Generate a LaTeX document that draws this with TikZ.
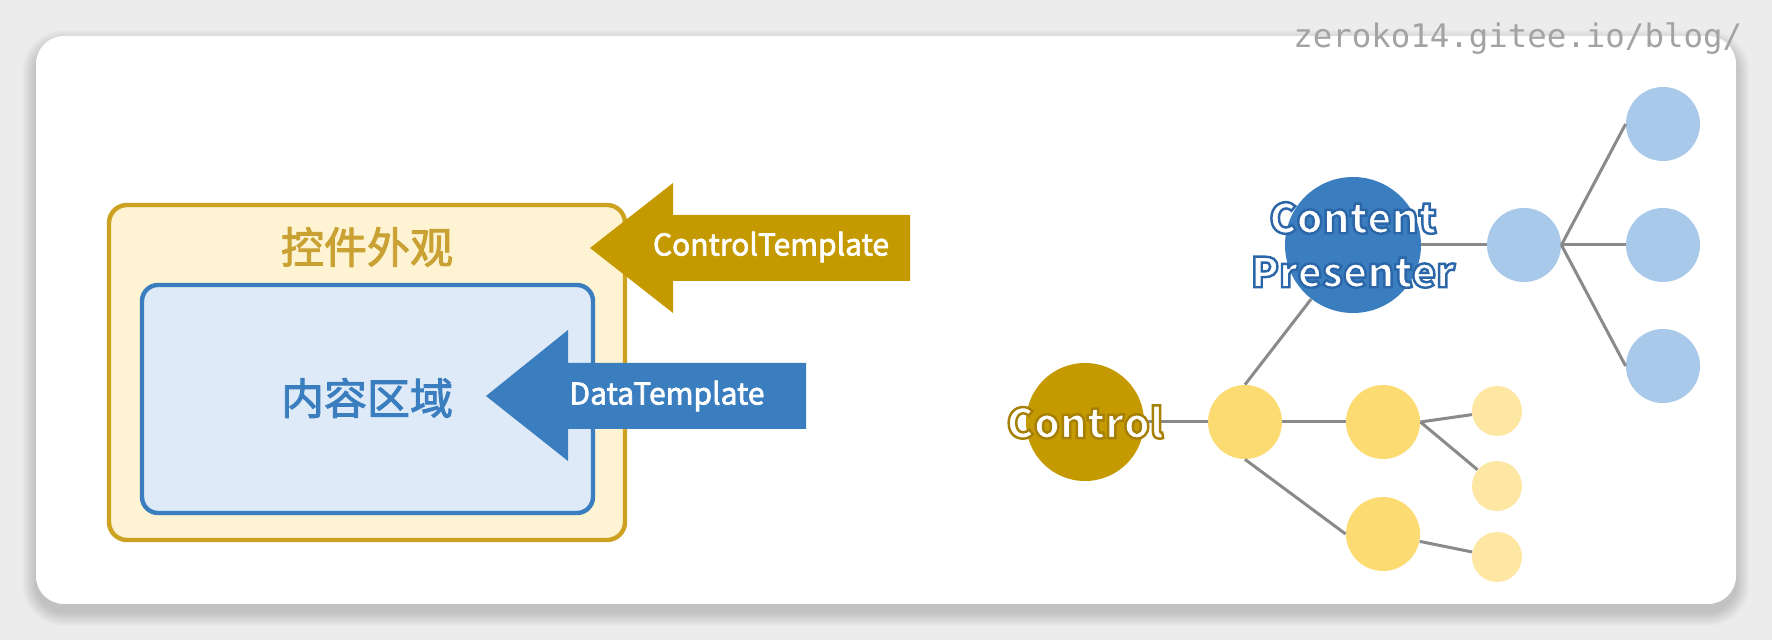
\documentclass[tikz,border=0pt]{standalone}
\usepackage{fontspec}
\newfontfamily\cjk{Noto Sans CJK SC}
\newfontfamily\cjkmed[FakeBold=2.2]{Noto Sans CJK SC}
\newfontfamily\cjkglow[FakeBold=6]{Noto Sans CJK SC}
\newfontfamily\wmfont{DejaVu Sans Mono}
\definecolor{pagebg}{HTML}{ECECEC}
\definecolor{gold}{HTML}{C49A00}
\definecolor{goldline}{HTML}{CDA220}
\definecolor{goldtext}{HTML}{C9A233}
\definecolor{cream}{HTML}{FEF3D2}
\definecolor{ctblue}{HTML}{3A7EC0}
\definecolor{paleblue}{HTML}{DEEAF7}
\definecolor{yellowA}{HTML}{FDDB73}
\definecolor{yellowB}{HTML}{FEE6A3}
\definecolor{skyblue}{HTML}{A8C9E9}
\definecolor{edgegray}{HTML}{8A8A8A}
% stroke colour for the outlined labels (fill stays white)
\newcommand\outlinergb[1]{\special{pdf:literal direct #1 RG}}

\tikzset{
  dot/.style={circle, inner sep=0pt, draw=none},
  edge/.style={draw=edgegray, line width=1.5pt},
  boxtext/.style={font=\cjkmed\fontsize{21.5}{24}\selectfont},
  arrowtext/.style={white, font=\cjkmed\fontsize{15}{18}\selectfont},
  glowtext/.style={white, font=\cjkglow\bfseries\fontsize{20.5}{27}\selectfont, align=center, inner sep=0pt}
}

\begin{document}
\begin{tikzpicture}[x=0.5pt, y=-0.5pt]
  \useasboundingbox (0,0) rectangle (1772,640);
  \fill[pagebg] (0,0) rectangle (1772,640);
  % soft shadow round the card
  \foreach \s in {1,...,14}
    \fill[black, opacity=0.011, rounded corners=14pt+0.5*\s pt] (36-\s,36-\s+8) rectangle (1736+\s,604+\s+8);
  \fill[white, rounded corners=14pt] (36,36) rectangle (1736,604);

  % left part: the two boxes and the two block arrows
  \draw[goldline, line width=2.2pt, fill=cream, rounded corners=9pt] (109,205) rectangle (625,540);
  \draw[ctblue, line width=2.2pt, fill=paleblue, rounded corners=8pt] (142,285) rectangle (593,513);
  \node[boxtext, goldtext] (look) at (367,247) {控件外观};
  \node[boxtext, ctblue] (content) at (367,398) {内容区域};
  \fill[gold] (590,248) -- (673,183) -- (673,215) -- (910,215) -- (910,281) -- (673,281) -- (673,313) -- cycle;
  \fill[ctblue] (486,396) -- (568,330) -- (568,363) -- (806,363) -- (806,429) -- (568,429) -- (568,461) -- cycle;
  \node[arrowtext] (ctpl) at (771,247) {ControlTemplate};
  \node[arrowtext] (dtpl) at (667,396) {DataTemplate};

  % right part: the tree
  \node[dot, fill=gold, minimum size=59pt] (ctl) at (1085,422) {};
  \node[dot, fill=ctblue, minimum size=68pt] (cp) at (1353,245) {};
  \node[dot, fill=yellowA, minimum size=37pt] (y1) at (1245,422) {};
  \node[dot, fill=yellowA, minimum size=37pt] (y2a) at (1383,422) {};
  \node[dot, fill=yellowA, minimum size=37pt] (y2b) at (1383,534) {};
  \node[dot, fill=yellowB, minimum size=25pt] (s1) at (1497,411) {};
  \node[dot, fill=yellowB, minimum size=25pt] (s2) at (1497,486) {};
  \node[dot, fill=yellowB, minimum size=25pt] (s3) at (1497,557) {};
  \node[dot, fill=skyblue, minimum size=37pt] (b1) at (1524,245) {};
  \node[dot, fill=skyblue, minimum size=37pt] (b2a) at (1663,124) {};
  \node[dot, fill=skyblue, minimum size=37pt] (b2b) at (1663,245) {};
  \node[dot, fill=skyblue, minimum size=37pt] (b2c) at (1663,366) {};

  \draw[edge] (ctl) -- (y1);
  \draw[edge] (y1.north) -- (cp);
  \draw[edge] (y1) -- (y2a);
  \draw[edge] (y1.south) -- (y2b.west);
  \draw[edge] (y2a.east) -- (s1);
  \draw[edge] (y2a.east) -- (s2);
  \draw[edge] (y2b) -- (s3);
  \draw[edge] (cp) -- (b1);
  \draw[edge] (b1.east) -- (b2a.west);
  \draw[edge] (b1.east) -- (b2b.west);
  \draw[edge] (b1.east) -- (b2c.west);

  % outlined labels
  \node[glowtext] (cplabel) at (cp) {\outlinergb{0.17 0.40 0.66}Content\\\outlinergb{0.17 0.40 0.66}Presenter};
  \node[glowtext] (ctllabel) at (ctl) {\outlinergb{0.65 0.50 0.02}Control};

  % watermark
  \node[anchor=base west, inner sep=0pt, text=black!36, font=\wmfont\fontsize{16.2}{18}\selectfont] (mark) at (1293,48) {zeroko14.gitee.io/blog/};
\end{tikzpicture}
\end{document}
